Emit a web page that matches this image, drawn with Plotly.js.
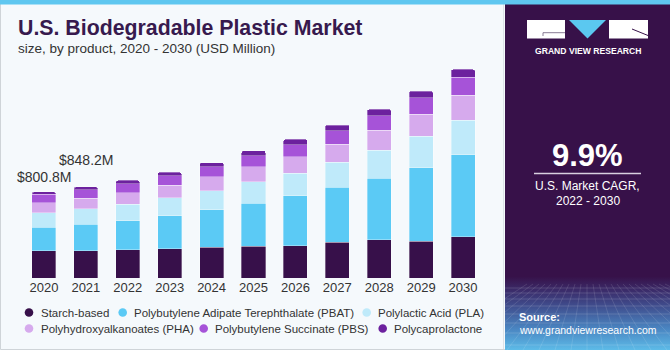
<!DOCTYPE html>
<html>
<head>
<meta charset="utf-8">
<script src="https://cdn.plot.ly/plotly-3.0.1.min.js"></script>
<style>html,body{margin:0;padding:0;background:#f5f9fc;}#chart{width:670px;height:350px;}</style>
</head>
<body>
<div id="chart"></div>
<script>
// ---- data (USD Million) ----
const years = ['2020','2021','2022','2023','2024','2025','2026','2027','2028','2029','2030'];
const seriesNames = ['Starch-based','Polybutylene Adipate Terephthalate (PBAT)','Polylactic Acid (PLA)',
  'Polyhydroxyalkanoates (PHA)','Polybutylene Succinate (PBS)','Polycaprolactone'];
const starch = [254, 253, 263, 273, 285, 298, 301, 335, 354, 344, 385];
const pbat   = [217, 249, 270, 307, 351, 400, 463, 508, 574, 685, 763];
const pla    = [137, 142, 155, 168, 177, 198, 210, 236, 261, 289, 323];
const pha    = [93, 101, 105, 115, 128, 140, 155, 168, 186, 205, 229];
const pbs    = [81, 78, 87, 90, 96, 102, 112, 124, 137, 155, 168];
const pcl    = [19, 25, 28, 31, 37, 47, 49, 53, 59, 62, 74];
const labelYears = ['2020','2021'];
const labelTexts = ['$800.8M','$848.2M'];
const cagrText = '9.9%';

// ---- styling ----
const colors = ['#37104a','#5bcaf5','#bfeafa','#d6aaed','#a653d8','#6c219e'];
const FONT = 'Liberation Sans, Arial, sans-serif';
const L = 23, T = 60, W = 461, H = 218;
const px = x => (x - L) / W;
const py = y => (T + H - y) / H;

const allSeries = [starch, pbat, pla, pha, pbs, pcl];
const traces = allSeries.map((vals, i) => ({
  type: 'bar', x: years, y: vals, name: seriesNames[i],
  marker: {color: colors[i], line: {color: 'rgba(255,255,255,0.55)', width: 0.6}},
  showlegend: false, hoverinfo: 'skip'
}));

const totals = years.map((_, j) => allSeries.reduce((s, a) => s + a[j], 0));

const annotations = [];
const shapes = [];
// titles
annotations.push({xref:'paper', yref:'paper', x: px(16), y: py(28.5), xanchor:'left', yanchor:'middle',
  text:'<b>U.S. Biodegradable Plastic Market</b>', showarrow:false,
  font:{family: FONT, size: 21.3, color:'#371a4e'}});
annotations.push({xref:'paper', yref:'paper', x: px(16), y: py(48), xanchor:'left', yanchor:'middle',
  text:'size, by product, 2020 - 2030 (USD Million)', showarrow:false,
  font:{family: FONT, size: 13.5, color:'#333333'}});
// value labels (category axis: position by category index)
const labelShift = [5, 17];
labelYears.forEach((yr, k) => {
  const j = years.indexOf(yr);
  annotations.push({x: j, y: totals[j], xref:'x', yref:'y', xanchor:'center', yanchor:'bottom', yshift: labelShift[k],
    text: labelTexts[k], showarrow:false, font:{family: FONT, size: 14, color:'#333333'}});
});
// legend (custom, flowing like the reference)
const legPos = [[29,312.5],[122.7,312.5],[366.7,312.5],[29,328.5],[203.7,328.5],[382.7,328.5]];
seriesNames.forEach((nm, i) => {
  const [mx, my] = legPos[i];
  shapes.push({type:'circle', xref:'paper', yref:'paper', xsizemode:'pixel', ysizemode:'pixel',
    xanchor: px(mx), yanchor: py(my), x0:-4.3, x1:4.3, y0:-4.3, y1:4.3,
    fillcolor: colors[i], line:{width:0}});
  annotations.push({xref:'paper', yref:'paper', x: px(mx + 9.5), y: py(my), xanchor:'left', yanchor:'middle',
    text: nm, showarrow:false, font:{family: FONT, size: 11.5, color:'#333333'}});
});
// right panel texts
annotations.push({xref:'paper', yref:'paper', x: px(587.5), y: py(51), xanchor:'center', yanchor:'middle',
  text:'<b>GRAND VIEW RESEARCH</b>', showarrow:false, font:{family: FONT, size: 8.6, color:'#ffffff'}});
annotations.push({xref:'paper', yref:'paper', x: px(587), y: py(155), xanchor:'center', yanchor:'middle',
  text:'<b>' + cagrText + '</b>', showarrow:false, font:{family: FONT, size: 31, color:'#ffffff'}});
annotations.push({xref:'paper', yref:'paper', x: px(587.5), y: py(186), xanchor:'center', yanchor:'middle',
  text:'U.S. Market CAGR,', showarrow:false, font:{family: FONT, size: 12, color:'#ffffff'}});
annotations.push({xref:'paper', yref:'paper', x: px(587.5), y: py(201), xanchor:'center', yanchor:'middle',
  text:'2022 - 2030', showarrow:false, font:{family: FONT, size: 12, color:'#ffffff'}});
annotations.push({xref:'paper', yref:'paper', x: px(517), y: py(316.5), xanchor:'left', yanchor:'middle',
  text:'<b>Source:</b>', showarrow:false, font:{family: FONT, size: 11, color:'#ffffff'}});
annotations.push({xref:'paper', yref:'paper', x: px(517), y: py(330), xanchor:'left', yanchor:'middle',
  text:'www.grandviewresearch.com', showarrow:false, font:{family: FONT, size: 10.5, color:'#ffffff'}});

// frame and top strip
shapes.push({type:'rect', xref:'paper', yref:'paper', x0: px(0.5), x1: px(669.5), y0: py(349.5), y1: py(0.5),
  line:{color:'#cfd4d8', width:1}, fillcolor:'rgba(0,0,0,0)', layer:'below'});
shapes.push({type:'line', xref:'paper', yref:'paper', x0: px(503.5), x1: px(503.5), y0: py(349), y1: py(4),
  line:{color:'#dde3e8', width:1}});
shapes.push({type:'rect', xref:'paper', yref:'paper', x0: px(0), x1: px(670), y0: py(4.5), y1: py(0),
  line:{width:0}, fillcolor:'#5fc7f0'});

// panel background graphic (gradient, grid, logo, divider)
let grid = '';
[288,293,299,306,314,323,333,345].forEach(y => { grid += `<line x1='0' y1='${y}' x2='165' y2='${y}' stroke='#ffffff' stroke-opacity='0.18' stroke-width='0.8'/>`; });
for (let k = -10; k <= 20; k++) {
  const xt = 82 + k * 6, xb = 82 + k * 16;
  grid += `<line x1='${xt}' y1='284' x2='${xb}' y2='350' stroke='#ffffff' stroke-opacity='0.15' stroke-width='0.8'/>`;
}
const svg = `<svg xmlns='http://www.w3.org/2000/svg' width='165' height='350' viewBox='0 0 165 350' preserveAspectRatio='none'>
<defs><linearGradient id='g' x1='0' y1='0' x2='0' y2='1'>
<stop offset='0' stop-color='#371149'/><stop offset='0.79' stop-color='#371149'/>
<stop offset='0.83' stop-color='#3b2c6a'/><stop offset='0.87' stop-color='#3f4a8a'/>
<stop offset='0.94' stop-color='#4a86c2'/><stop offset='1' stop-color='#5dbbe8'/></linearGradient></defs>
<rect width='165' height='350' fill='url(#g)'/>${grid}
<rect x='22' y='20' width='38' height='18.5' fill='#ffffff'/>
<path d='M38 36 L38 32.7 L60 32.7' stroke='#6a5a7a' stroke-width='0.8' fill='none'/>
<polygon points='64,20 101,20 82.5,38.5' fill='#5bc8f0'/>
<rect x='104' y='20' width='39' height='18.5' fill='#ffffff'/>
<line x1='127' y1='29' x2='143' y2='35.5' stroke='#371149' stroke-width='1'/>
<line x1='29' y1='173.5' x2='136' y2='173.5' stroke='#d8d0e0' stroke-width='1.5'/>
</svg>`;
const images = [{source: 'data:image/svg+xml;base64,' + btoa(svg), xref:'paper', yref:'paper',
  x: px(505), y: py(0), sizex: 165 / W, sizey: 350 / H, sizing:'stretch', xanchor:'left', yanchor:'top', layer:'above'}];

const layout = {
  width: 670, height: 350,
  margin: {l: L, r: 670 - L - W, t: T, b: 350 - T - H, pad: 0},
  paper_bgcolor: '#f5f9fc', plot_bgcolor: '#f5f9fc',
  barmode: 'stack', bargap: 0.427, barcornerradius: 2,
  showlegend: false,
  xaxis: {type:'category', range:[-0.5, 10.5], showgrid:false, zeroline:false, showline:false, ticks:'',
    tickfont:{family: FONT, size: 13, color:'#333333'}, fixedrange:true},
  yaxis: {range:[0, 2030], visible:false, fixedrange:true},
  annotations, shapes, images
};
Plotly.newPlot('chart', traces, layout, {displayModeBar:false, staticPlot:true});
</script>
</body>
</html>
